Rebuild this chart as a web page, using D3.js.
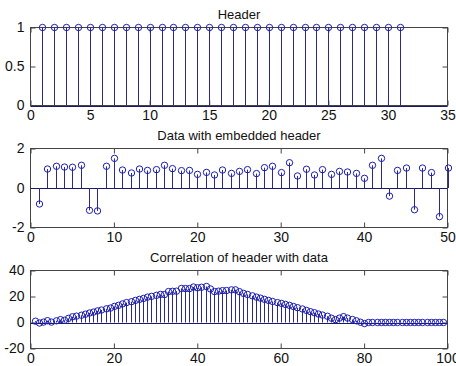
<!DOCTYPE html>
<html>
<head>
<meta charset="utf-8">
<script src="https://cdn.jsdelivr.net/npm/d3@7"></script>
<style>
  body { margin: 0; background: #fff; }
  text { font-family: "Liberation Sans", Arial, sans-serif; font-size: 13px; fill: #111; }
</style>
</head>
<body>
<div id="chart"></div>
<script>
const W = 456;
const H = 366;

// header: 31 ones
const headerX = d3.range(1, 32);
const headerY = [1,1,1,1,1,1,1,1,1,1,1,1,1,1,1,1,1,1,1,1,1,1,1,1,1,1,1,1,1,1,1];

// data with the header embedded
const dataX = d3.range(1, 51);
const dataY = [-0.81, 0.96, 1.10, 1.06, 1.05, 1.15, -1.13, -1.16, 1.10, 1.50,
  0.91, 0.76, 0.96, 0.89, 0.93, 1.15, 0.98, 0.88, 0.89, 0.69,
  0.79, 0.66, 0.91, 0.74, 0.84, 0.93, 0.73, 1.03, 1.10, 0.78,
  1.28, 0.61, 0.95, 0.66, 0.93, 0.69, 0.84, 0.81, 0.74, 0.49,
  1.15, 1.50, -0.41, 0.89, 1.01, -1.10, 1.01, 0.78, -1.45, 1.01];

// correlation, 99 lags
const corrX = d3.range(1, 100);
const corrY = [1.0, -0.4, 0.3, 1.4, 0.3, 1.3, 2.2, 1.7, 3.2, 4.4,
  4.9, 5.6, 6.4, 7.3, 8.0, 8.9, 9.6, 10.5, 11.1, 12.4,
  13.2, 14.3, 15.3, 16.0, 17.0, 17.8, 18.5, 19.5, 20.1, 20.9,
  21.6, 21.5, 23.8, 24.0, 24.1, 26.2, 26.1, 26.1, 27.3, 26.7,
  27.1, 27.7, 25.8, 23.8, 24.1, 24.5, 24.6, 25.1, 25.1, 23.7,
  22.4, 21.6, 20.5, 19.5, 18.7, 17.8, 17.0, 16.2, 15.3, 14.7,
  13.9, 13.2, 12.3, 11.4, 10.4, 9.3, 8.3, 7.5, 6.5, 5.7,
  4.8, 3.3, 2.2, 3.4, 4.5, 3.4, 2.3, 1.3, 0.2, -0.8,
  0, 0, 0, 0, 0, 0, 0, 0, 0, 0,
  0, 0, 0, 0, 0, 0, 0, 0, 0];

const panels = [
  { title: 'Header', xs: headerX, ys: headerY, xDom: [0, 35], yDom: [0, 1],
    xTicks: [0, 5, 10, 15, 20, 25, 30, 35], yTicks: [0, 0.5, 1], top: 27.5, bottom: 105.5 },
  { title: 'Data with embedded header', xs: dataX, ys: dataY, xDom: [0, 50], yDom: [-2, 2],
    xTicks: [0, 10, 20, 30, 40, 50], yTicks: [-2, 0, 2], top: 148.5, bottom: 227.5 },
  { title: 'Correlation of header with data', xs: corrX, ys: corrY, xDom: [0, 100], yDom: [-20, 40],
    xTicks: [0, 20, 40, 60, 80, 100], yTicks: [-20, 0, 20, 40], top: 270.5, bottom: 348.5 }
];

const left = 30.5;
const right = 447.5;
const frameCol = '#444';
const stemCol = '#2a2a8c';
const markCol = '#1c1cb4';

// plain labels: "0.5", "1", "-2" (hyphen, not unicode minus)
const fmt = d => String(d);

const svg = d3.select('#chart')
  .append('svg')
  .attr('width', W)
  .attr('height', H);

panels.forEach(p => {
  const x = d3.scaleLinear().domain(p.xDom).range([left, right]);
  const y = d3.scaleLinear().domain(p.yDom).range([p.bottom, p.top]);
  const g = svg.append('g');

  // inward ticks on all four sides
  const styleAxis = (sel) => {
    sel.select('.domain').remove();
    sel.selectAll('line').attr('stroke', frameCol);
    sel.selectAll('text').style('font-size', '14px').attr('fill', '#111');
  };

  g.append('g')
    .attr('transform', `translate(0,${p.bottom})`)
    .call(d3.axisBottom(x).tickValues(p.xTicks).tickFormat(fmt).tickSizeInner(-5).tickSizeOuter(0).tickPadding(5))
    .call(styleAxis);
  g.append('g')
    .attr('transform', `translate(0,${p.top})`)
    .call(d3.axisTop(x).tickValues(p.xTicks).tickSizeInner(-5).tickSizeOuter(0).tickFormat(''))
    .call(styleAxis);
  g.append('g')
    .attr('transform', `translate(${left},0)`)
    .call(d3.axisLeft(y).tickValues(p.yTicks).tickFormat(fmt).tickSizeInner(-5).tickSizeOuter(0).tickPadding(6))
    .call(styleAxis);
  g.append('g')
    .attr('transform', `translate(${right},0)`)
    .call(d3.axisRight(y).tickValues(p.yTicks).tickSizeInner(-5).tickSizeOuter(0).tickFormat(''))
    .call(styleAxis);

  g.append('rect')
    .attr('x', left)
    .attr('y', p.top)
    .attr('width', right - left)
    .attr('height', p.bottom - p.top)
    .attr('fill', 'none')
    .attr('stroke', frameCol);

  // stem baseline
  g.append('line')
    .attr('x1', left).attr('x2', right)
    .attr('y1', Math.round(y(0)) + 0.5).attr('y2', Math.round(y(0)) + 0.5)
    .attr('stroke', '#1a1a6a');

  const pts = p.xs.map((v, i) => ({ x: v, y: p.ys[i] }));

  g.selectAll('.stem')
    .data(pts)
    .enter()
    .append('line')
    .attr('class', 'stem')
    .attr('x1', d => Math.round(x(d.x)) + 0.5)
    .attr('x2', d => Math.round(x(d.x)) + 0.5)
    .attr('y1', y(0))
    .attr('y2', d => y(d.y))
    .attr('stroke', stemCol)
    .attr('stroke-width', 1);

  g.selectAll('.mark')
    .data(pts)
    .enter()
    .append('circle')
    .attr('class', 'mark')
    .attr('cx', d => Math.round(x(d.x)) + 0.5)
    .attr('cy', d => y(d.y))
    .attr('r', 3.2)
    .attr('fill', 'none')
    .attr('stroke', markCol)
    .attr('stroke-width', 1);

  g.append('text')
    .attr('x', (left + right) / 2)
    .attr('y', p.top - 9)
    .attr('text-anchor', 'middle')
    .text(p.title);
});
</script>
</body>
</html>
